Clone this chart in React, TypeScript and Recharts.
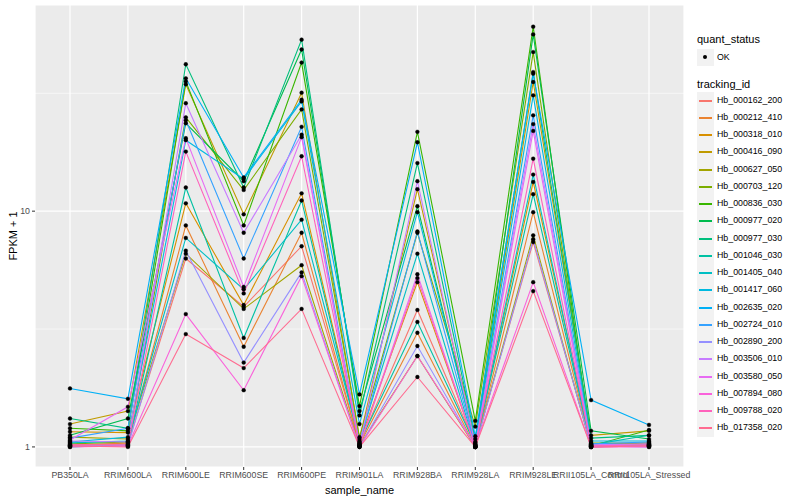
import React from "react";
import {
  LineChart,
  Line,
  CartesianGrid,
  XAxis,
  YAxis,
  ReferenceLine,
} from "recharts";

const samples = [
  "PB350LA",
  "RRIM600LA",
  "RRIM600LE",
  "RRIM600SE",
  "RRIM600PE",
  "RRIM901LA",
  "RRIM928BA",
  "RRIM928LA",
  "RRIM928LE",
  "RRII105LA_Control",
  "RRII105LA_Stressed",
];

const trackingIds = [
  "Hb_000162_200",
  "Hb_000212_410",
  "Hb_000318_010",
  "Hb_000416_090",
  "Hb_000627_050",
  "Hb_000703_120",
  "Hb_000836_030",
  "Hb_000977_020",
  "Hb_000977_030",
  "Hb_001046_030",
  "Hb_001405_040",
  "Hb_001417_060",
  "Hb_002635_020",
  "Hb_002724_010",
  "Hb_002890_200",
  "Hb_003506_010",
  "Hb_003580_050",
  "Hb_007894_080",
  "Hb_009788_020",
  "Hb_017358_020",
];

// FPKM + 1, one value per sample, in the order of `samples`
const hb000162_200 = [1.02, 1.03, 6.3, 3.93, 7.1, 1.03, 3.81, 1.02, 7.4, 1.02, 1.01];
const hb000212_410 = [1.01, 1.04, 8.7, 2.66, 8.1, 1.02, 3.05, 1.0, 9.9, 1.01, 1.02];
const hb000318_010 = [1.16, 1.15, 10.8, 4.0, 11.9, 1.05, 5.0, 1.01, 13.3, 1.03, 1.04];
const hb000416_090 = [1.25, 1.42, 34.5, 9.7, 31.8, 1.08, 12.4, 1.05, 35.3, 1.12, 1.17];
const hb000627_050 = [1.1, 1.08, 6.6, 3.85, 5.9, 1.01, 2.43, 1.0, 7.9, 1.0, 1.01];
const hb000703_120 = [1.03, 1.05, 25.0, 12.3, 27.0, 1.1, 8.1, 1.22, 47.3, 1.04, 1.03];
const hb000836_030 = [1.2, 1.17, 35.5, 8.7, 42.7, 1.49, 21.7, 1.29, 60.6, 1.01, 1.18];
const hb000977_020 = [1.12, 1.32, 23.6, 13.4, 48.5, 1.42, 10.5, 1.03, 56.2, 1.17, 1.08];
const hb000977_030 = [1.32, 1.2, 42.0, 12.6, 53.4, 1.36, 16.0, 1.08, 38.9, 1.09, 1.12];
const hb001046_030 = [1.0, 1.02, 12.6, 2.9, 11.1, 1.04, 3.39, 1.02, 11.8, 1.02, 1.12];
const hb001405_040 = [1.04, 1.06, 7.7, 4.66, 9.2, 1.06, 6.6, 1.0, 14.3, 1.0, 1.02];
const hb001417_060 = [1.05, 1.1, 20.0, 13.7, 29.2, 1.25, 9.9, 1.04, 31.0, 1.06, 1.06];
const hb002635_020 = [1.77, 1.6, 36.6, 13.9, 29.7, 1.67, 19.6, 1.11, 38.3, 1.58, 1.24];
const hb002724_010 = [1.09, 1.2, 24.3, 6.3, 22.8, 1.03, 8.2, 1.01, 25.5, 1.03, 1.05];
const hb002890_200 = [1.01, 1.01, 6.8, 2.28, 5.5, 1.0, 2.68, 1.0, 7.6, 1.01, 1.0];
const hb003506_010 = [1.06, 1.05, 28.7, 8.1, 21.1, 1.02, 13.4, 1.02, 23.4, 1.02, 1.03];
const hb003580_050 = [1.07, 1.48, 20.4, 4.77, 20.6, 1.01, 5.4, 1.0, 21.9, 1.0, 1.01];
const hb007894_080 = [1.0, 1.01, 3.66, 1.74, 5.3, 1.0, 2.43, 1.01, 5.0, 1.0, 1.0];
const hb009788_020 = [1.02, 1.02, 17.9, 4.48, 17.1, 1.01, 5.2, 1.0, 16.7, 1.01, 1.02];
const hb017358_020 = [1.01, 1.0, 3.01, 2.16, 3.85, 1.0, 1.98, 1.0, 4.58, 1.0, 1.01];

const seriesValues = [
  hb000162_200, hb000212_410, hb000318_010, hb000416_090, hb000627_050,
  hb000703_120, hb000836_030, hb000977_020, hb000977_030, hb001046_030,
  hb001405_040, hb001417_060, hb002635_020, hb002724_010, hb002890_200,
  hb003506_010, hb003580_050, hb007894_080, hb009788_020, hb017358_020,
];

const yTicks = [1, 10];
const yMinor = [Math.sqrt(10), 10 * Math.sqrt(10)];

// ggplot hue palette for 20 levels
const palette = [
  "#F8766D", "#EA8331", "#D89000", "#C09B00", "#A3A500",
  "#7CAE00", "#39B600", "#00BB4E", "#00BF7D", "#00C1A3",
  "#00BFC4", "#00BAE0", "#00B0F6", "#35A2FF", "#9590FF",
  "#C77CFF", "#E76BF3", "#FA62DB", "#FF62BC", "#FF6C91",
];

const FONT = '"Liberation Sans", Arial, Helvetica, sans-serif';

const data = samples.map((s, i) => {
  const row: Record<string, string | number> = { sample: s };
  trackingIds.forEach((id, k) => {
    row[id] = seriesValues[k][i];
  });
  return row;
});

function LegendPanel() {
  const top = 100.5;
  const step = 17.25;
  return (
    <div style={{ position: "absolute", left: 697, top: 0, fontFamily: FONT }}>
      <div style={{ position: "absolute", top: 33, left: 0, fontSize: 11, whiteSpace: "nowrap" }}>
        quant_status
      </div>
      <div style={{ position: "absolute", top: 49, left: 0, width: 17, height: 17, background: "#F2F2F2" }}>
        <div style={{ position: "absolute", left: 6, top: 6, width: 4, height: 4, borderRadius: 2, background: "#000" }} />
      </div>
      <div style={{ position: "absolute", top: 52, left: 20, fontSize: 8.8, color: "#000" }}>OK</div>
      <div style={{ position: "absolute", top: 78, left: 0, fontSize: 11, whiteSpace: "nowrap" }}>
        tracking_id
      </div>
      {trackingIds.map((id, k) => {
        const cy = Math.round(top + k * step);
        return (
          <React.Fragment key={id}>
            <div
              style={{
                position: "absolute",
                top: cy - 9,
                left: 0,
                width: 17,
                height: 18,
                background: "#F2F2F2",
              }}
            >
              <div
                style={{
                  position: "absolute",
                  left: 2,
                  width: 13,
                  top: 8,
                  height: 1.5,
                  background: palette[k],
                }}
              />
            </div>
            <div
              style={{
                position: "absolute",
                top: cy - 6,
                left: 20,
                fontSize: 8.8,
                whiteSpace: "nowrap",
                color: "#000",
              }}
            >
              {id}
            </div>
          </React.Fragment>
        );
      })}
    </div>
  );
}

export default function App() {
  return (
    <div style={{ position: "absolute", left: 0, top: 0, width: 800, height: 500, background: "#fff" }}>
      <LineChart
        width={800}
        height={500}
        data={data}
        margin={{ top: 5, right: 116, bottom: 0, left: 0 }}
      >
        <CartesianGrid fill="#EBEBEB" stroke="#FFFFFF" strokeWidth={1.2} />
        {yMinor.map((v) => (
          <ReferenceLine key={v} y={v} stroke="#FFFFFF" strokeWidth={0.6} />
        ))}
        <XAxis
          dataKey="sample"
          interval={0}
          height={33}
          padding={{ left: 35, right: 35 }}
          axisLine={false}
          tickSize={3}
          tickMargin={2}
          tickLine={{ stroke: "#333333" }}
          tick={{ fill: "#4D4D4D", fontSize: 8.8, fontFamily: FONT }}
          label={{
            value: "sample_name",
            position: "insideBottom",
            offset: 6,
            style: { fill: "#000", fontSize: 11, fontFamily: FONT },
          }}
        />
        <YAxis
          scale="log"
          domain={[0.822, 74.9]}
          allowDataOverflow
          ticks={yTicks}
          width={35}
          axisLine={false}
          tickSize={3}
          tickMargin={2}
          tickLine={{ stroke: "#333333" }}
          tick={{ fill: "#4D4D4D", fontSize: 8.8, fontFamily: FONT }}
          label={{
            value: "FPKM + 1",
            angle: -90,
            position: "insideLeft",
            offset: 13,
            style: { textAnchor: "middle", fill: "#000", fontSize: 11, fontFamily: FONT },
          }}
        />
        {trackingIds.map((id, k) => (
          <Line
            key={id}
            type="linear"
            dataKey={id}
            stroke={palette[k]}
            strokeWidth={1.1}
            dot={false}
            activeDot={false}
            isAnimationActive={false}
          />
        ))}
        {trackingIds.map((id) => (
          <Line
            key={id + "_pt"}
            type="linear"
            dataKey={id}
            stroke="none"
            dot={{ r: 1.9, fill: "#000", stroke: "#000", strokeWidth: 0.4 }}
            activeDot={false}
            legendType="none"
            isAnimationActive={false}
          />
        ))}
      </LineChart>
      <LegendPanel />
    </div>
  );
}
